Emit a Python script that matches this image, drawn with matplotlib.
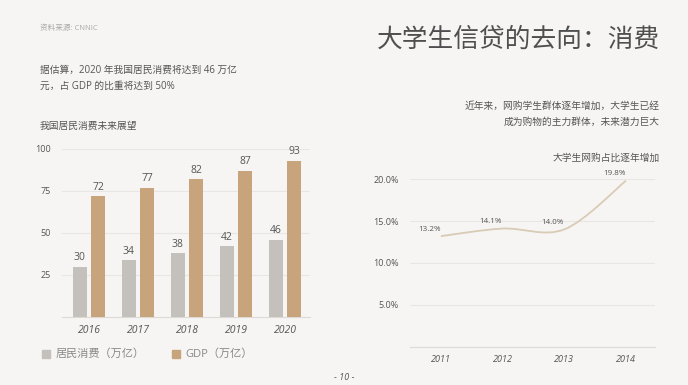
import numpy as np
import matplotlib
matplotlib.use("Agg")
import matplotlib.pyplot as plt
from matplotlib.path import Path
from matplotlib.patches import PathPatch, Rectangle

# data
years_bar = ["2016", "2017", "2018", "2019", "2020"]
consume = [30, 34, 38, 42, 46]
gdp = [72, 77, 82, 87, 93]
bar_yticks = [25, 50, 75, 100]

years_line = ["2011", "2012", "2013", "2014"]
share = [13.2, 14.1, 14.0, 19.8]
line_yticks = [5, 10, 15, 20]

FONT = ["Open Sans", "Noto Sans CJK SC", "DejaVu Sans"]
plt.rcParams["font.family"] = FONT

BG = "#f6f5f3"
GRAY = "#c4c1bd"
GOLD = "#c8a47c"
TXT = "#555555"
GRID = "#e8e6e3"

fig = plt.figure(figsize=(6.88, 3.85), dpi=100, facecolor=BG)

# --- header texts
fig.text(40 / 688, 1 - 28 / 385, "资料来源: CNNIC", fontsize=5.5, color="#aaaaaa", va="center")
fig.text(40 / 688, 1 - 70 / 385, "据估算，2020 年我国居民消费将达到 46 万亿", fontsize=7, color=TXT, va="center")
fig.text(40 / 688, 1 - 86 / 385, "元，占 GDP 的比重将达到 50%", fontsize=7, color=TXT, va="center")
fig.text(40 / 688, 1 - 126 / 385, "我国居民消费未来展望", fontsize=7, color=TXT, va="center")

fig.text(660 / 688, 1 - 40 / 385, "大学生信贷的去向：消费", fontsize=18.5, color="#4f4f4f",
         va="center", ha="right", family=["Noto Sans CJK SC"])
fig.text(660 / 688, 1 - 106 / 385, "近年来，网购学生群体逐年增加，大学生已经", fontsize=7, color=TXT,
         va="center", ha="right")
fig.text(660 / 688, 1 - 122 / 385, "成为购物的主力群体，未来潜力巨大", fontsize=7, color=TXT,
         va="center", ha="right")
fig.text(660 / 688, 1 - 158 / 385, "大学生网购占比逐年增加", fontsize=7, color=TXT,
         va="center", ha="right")
fig.text(344 / 688, 1 - 378 / 385, "- 10 -", fontsize=6.5, color=TXT, va="center", ha="center",
         style="italic")

# --- bar chart
ax = fig.add_axes([62 / 688, 1 - 317 / 385, 248 / 688, 168 / 385], facecolor=BG)
x = np.arange(len(years_bar))
w = 0.29
off = 0.185
ax.bar(x - off, consume, width=w, color=GRAY, zorder=3)
ax.bar(x + off, gdp, width=w, color=GOLD, zorder=3)
for i in range(len(x)):
    ax.text(x[i] - off, consume[i] + 2, str(consume[i]), ha="center", va="bottom", fontsize=7.5, color=TXT)
    ax.text(x[i] + off, gdp[i] + 2, str(gdp[i]), ha="center", va="bottom", fontsize=7.5, color=TXT)
ax.set_xlim(-0.55, 4.51)
ax.set_ylim(0, 100)
ax.set_yticks(bar_yticks)
ax.set_yticklabels([str(v) for v in bar_yticks], fontsize=6.5, color=TXT)
ax.set_xticks(x)
ax.set_xticklabels(years_bar, fontsize=7.5, color=TXT, style="italic")
ax.tick_params(length=0, pad=6)
ax.tick_params(axis="y", pad=8)
ax.grid(axis="y", color=GRID, lw=0.8, zorder=0)
for s in ["top", "right", "left"]:
    ax.spines[s].set_visible(False)
ax.spines["bottom"].set_color("#dddad6")

# legend
fig.patches.append(Rectangle((42 / 688, 1 - 358 / 385), 8 / 688, 8 / 385, color=GRAY,
                             transform=fig.transFigure, figure=fig))
fig.text(56 / 688, 1 - 354 / 385, "居民消费（万亿）", fontsize=8, color="#888888", va="center")
fig.patches.append(Rectangle((172 / 688, 1 - 358 / 385), 8 / 688, 8 / 385, color=GOLD,
                             transform=fig.transFigure, figure=fig))
fig.text(185 / 688, 1 - 354 / 385, "GDP（万亿）", fontsize=8, color="#888888", va="center")

# --- line chart
ax2 = fig.add_axes([410 / 688, 1 - 347 / 385, 245 / 688, 168 / 385], facecolor=BG)
xl = np.arange(len(years_line))
# smooth bezier through the points (catmull-rom style control points)
pts = list(zip(xl, share))
verts = [pts[0]]
codes = [Path.MOVETO]
for i in range(len(pts) - 1):
    p0 = pts[i - 1] if i > 0 else pts[i]
    p1 = pts[i]
    p2 = pts[i + 1]
    p3 = pts[i + 2] if i + 2 < len(pts) else pts[i + 1]
    c1 = (p1[0] + (p2[0] - p0[0]) / 6, p1[1] + (p2[1] - p0[1]) / 6)
    c2 = (p2[0] - (p3[0] - p1[0]) / 6, p2[1] - (p3[1] - p1[1]) / 6)
    verts += [c1, c2, p2]
    codes += [Path.CURVE4] * 3
ax2.add_patch(PathPatch(Path(verts, codes), fill=False, edgecolor="#d9cbb6", lw=1.3, zorder=3))
for i in range(len(xl)):
    ax2.text(xl[i] - 0.19, share[i] + 0.4, f"{share[i]:.1f}%", ha="center", va="bottom",
             fontsize=5.8, color=TXT)
ax2.set_xlim(-0.5, 3.47)
ax2.set_ylim(0, 20)
ax2.set_yticks(line_yticks)
ax2.set_yticklabels([f"{v:.1f}%" for v in line_yticks], fontsize=6.5, color=TXT)
ax2.set_xticks(xl)
ax2.set_xticklabels(years_line, fontsize=6.5, color=TXT, style="italic")
ax2.tick_params(length=0, pad=6)
ax2.tick_params(axis="y", pad=8)
ax2.grid(axis="y", color=GRID, lw=0.8, zorder=0)
for s in ["top", "right", "left"]:
    ax2.spines[s].set_visible(False)
ax2.spines["bottom"].set_color("#dddad6")

fig.savefig("out.png", dpi=100, facecolor=BG)
